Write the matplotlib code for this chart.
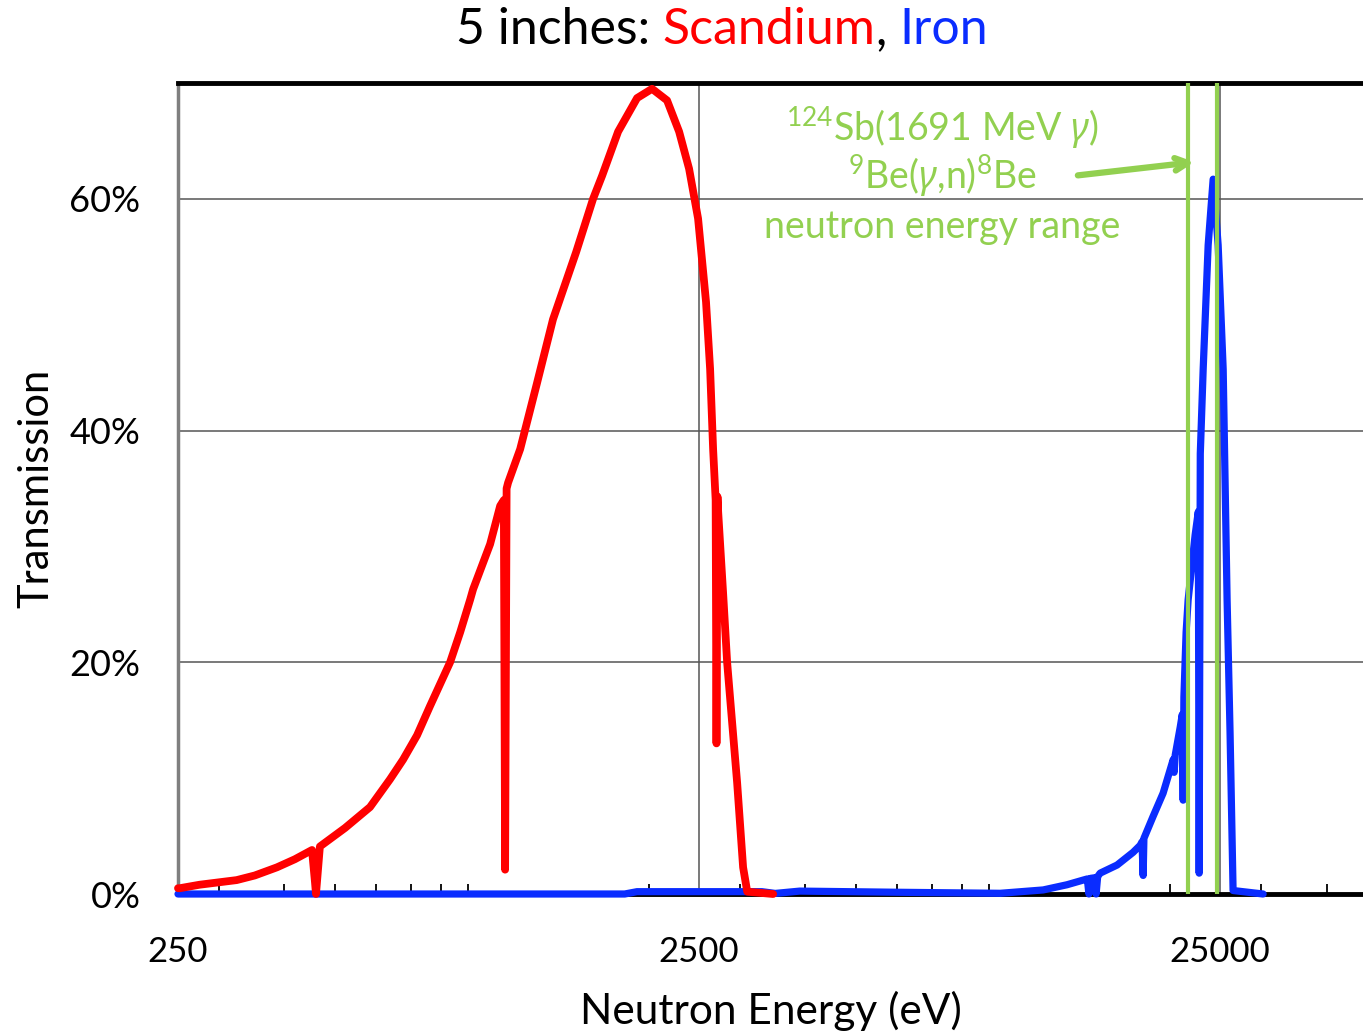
"""
neutron transmission through 5 inches of scandium and iron
"""

import matplotlib
matplotlib.use('Agg')
import matplotlib.pyplot as plt
from matplotlib.ticker import PercentFormatter, LogLocator, FixedLocator, NullFormatter

plt.rcParams['font.family'] = ['Lato', 'DejaVu Sans']
plt.rcParams['mathtext.fontset'] = 'custom'
plt.rcParams['mathtext.rm'] = 'Lato'
plt.rcParams['mathtext.it'] = 'Noto Sans:italic'

RED = '#ff0000'
BLUE = '#0a2cff'
GREEN = '#92d050'

# scandium transmission (energy in eV, transmission in %)
sc_energy = [250, 252, 275, 324, 351, 387, 419, 452, 458, 460, 468, 523, 584, 638,
             676, 719, 761, 832, 870, 909, 921, 993, 1038, 1055, 1061, 1068, 1075,
             1134, 1220, 1311, 1452, 1565, 1629, 1748, 1901, 2031, 2170, 2289, 2392,
             2489, 2578, 2625, 2660, 2690, 2700, 2712, 2720, 2780, 2830, 2958, 3037,
             3093, 3468]
sc_trans = [0.5, 0.5, 0.8, 1.2, 1.6, 2.3, 3.0, 3.8, 1.0, 0.0, 4.1, 5.7, 7.5, 9.9,
            11.6, 13.7, 16.2, 20.0, 22.6, 25.4, 26.3, 30.2, 33.5, 34.0, 2.1, 35.0, 35.5,
            38.4, 44.0, 49.6, 55.4, 60.0, 62.0, 65.8, 68.7, 69.5, 68.5, 65.8, 62.6,
            58.3, 51.1, 45.3, 38.4, 34.0, 13.0, 34.3, 33.0, 26.0, 20.0, 9.6, 2.3,
            0.2, 0.0]

# iron transmission (energy in eV, transmission in %)
fe_energy = [250, 1800, 1900, 3300, 3500, 3900, 6000, 9457, 11436, 12710, 13646,
             13900, 14000, 14100, 14350, 14450, 14550, 14712, 15855, 17020, 17556,
             17700, 17790, 17850, 18590, 19430, 20315, 20400, 20500, 20956, 21150,
             21230, 21300, 21510, 21704, 22385, 22700, 22787, 22900, 23194, 23710,
             24240, 24780, 25337, 25780, 26120, 26470, 30230]
fe_trans = [0.0, 0.0, 0.2, 0.2, 0.05, 0.25, 0.15, 0.06, 0.35, 0.8, 1.2,
            1.3, 0.0, 1.35, 1.4, 0.0, 1.5, 1.8, 2.5, 3.6, 4.2,
            4.5, 1.6, 4.8, 6.7, 8.7, 11.6, 10.5, 12.0, 14.4, 15.5,
            8.1, 17.0, 22.6, 25.4, 31.0, 33.0, 1.8, 38.0, 45.3, 56.0,
            61.7, 56.0, 45.3, 25.4, 13.9, 0.3, 0.0]

# 124Sb-Be photoneutron energy band (eV)
sb_be_range = [21700, 24700]

x_ticks = [250, 2500, 25000]
y_ticks = [0, 20, 40, 60]


fig = plt.figure(figsize=(13.63, 10.33), dpi=100)
ax = fig.add_axes([178 / 1363, 139 / 1033, 1185 / 1363, 811 / 1033])

ax.plot(fe_energy, fe_trans, color=BLUE, lw=5.2, solid_joinstyle='round',
        solid_capstyle='round', clip_on=False, zorder=3)
ax.plot(sc_energy, sc_trans, color=RED, lw=5.6, solid_joinstyle='round',
        solid_capstyle='round', clip_on=False, zorder=4)
for e in sb_be_range:
    ax.axvline(e, color=GREEN, lw=3, zorder=5)

ax.set_xscale('log')
ax.set_xlim(250, 47000)
ax.set_ylim(0, 70)

ax.xaxis.set_major_locator(FixedLocator(x_ticks))
ax.set_xticklabels([str(x) for x in x_ticks])
ax.xaxis.set_minor_locator(LogLocator(base=10, subs=range(2, 10)))
ax.xaxis.set_minor_formatter(NullFormatter())
ax.tick_params(axis='x', which='major', length=0, pad=30, labelsize=25)
ax.tick_params(axis='x', which='minor', direction='in', length=7, width=1.3,
               color='black')

ax.set_yticks(y_ticks)
ax.yaxis.set_major_formatter(PercentFormatter(xmax=100, decimals=0))
ax.tick_params(axis='y', length=0, pad=27, labelsize=26)

ax.grid(True, which='major', color='#555555', lw=1.1)
ax.set_axisbelow(True)

for side in ['top', 'bottom']:
    ax.spines[side].set_linewidth(3.5)
    ax.spines[side].set_color('black')
ax.spines['left'].set_linewidth(2.5)
ax.spines['left'].set_color('#7f7f7f')
ax.spines['right'].set_visible(False)

ax.set_xlabel('Neutron Energy (eV)', fontsize=30.5, labelpad=17)
ax.set_ylabel('Transmission', fontsize=30, labelpad=10)

# source label and arrow to the energy band
ax.text(7317, 66.1, r'$^{124}$Sb(1691 MeV $\gamma$)', color=GREEN, fontsize=27,
        ha='center', va='center')
ax.text(7317, 61.9, r'$^{9}$Be($\gamma$,n)$^{8}$Be', color=GREEN, fontsize=27,
        ha='center', va='center')
ax.text(7317, 57.6, 'neutron energy range', color=GREEN, fontsize=27,
        ha='center', va='center')
ax.annotate('', xy=(22590, 63.2), xytext=(13170, 62.0),
            arrowprops=dict(arrowstyle='->,head_length=0.9,head_width=0.45',
                            color=GREEN, lw=4.5))

# title in three colours
parts = [('5 inches: ', 'black'), ('Scandium', RED), (', ', 'black'), ('Iron', BLUE)]
renderer = fig.canvas.get_renderer()
texts = [fig.text(0, 1 - 30 / 1033, s, color=c, fontsize=36, ha='left', va='center')
         for s, c in parts]
widths = [t.get_window_extent(renderer).width for t in texts]
x = 722 - sum(widths) / 2
for t, w in zip(texts, widths):
    t.set_x(x / 1363)
    x += w

fig.savefig('out.png', dpi=100)
